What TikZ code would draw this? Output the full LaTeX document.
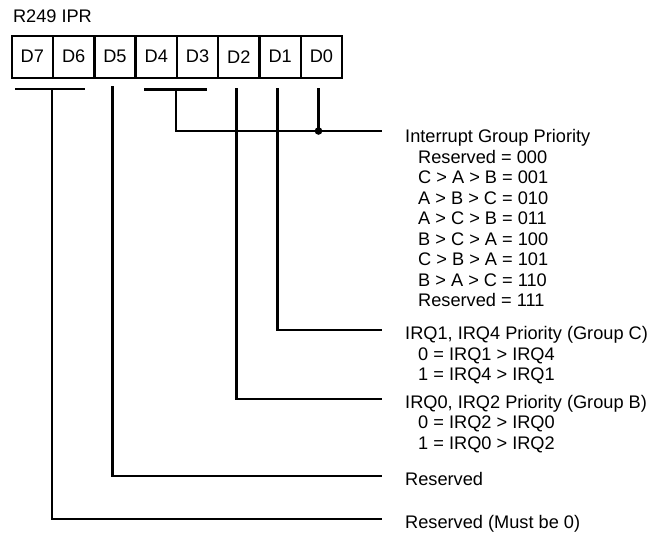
\documentclass[tikz,border=0pt]{standalone}
\usepackage{fontspec}
\setmainfont{Liberation Sans}
\newcommand{\lblfont}{\fontsize{18.2}{20.5}\selectfont}
\begin{document}
\begin{tikzpicture}[x=1pt,y=-1pt,
  wire/.style={line width=2.5pt},
  cellbox/.style={draw, line width=2.4pt, minimum width=41.3pt, minimum height=42pt,
    inner sep=0pt, anchor=north west, font=\lblfont},
  lbl/.style={inner sep=0pt, anchor=base west, font=\lblfont}]
\useasboundingbox (0,0) rectangle (664,533);
% title
\node[lbl] (title) at (12.8,22.3) {R249 IPR};
% register cells
\foreach \b [count=\i from 0] in {7,6,5,4,3,2,1,0}
  \node[cellbox] (c\b) at ({10.5+41.3*\i},34.5) {D\b};
% labels
\node[lbl] (gh) at (405,142.5) {Interrupt Group Priority};
\foreach \t [count=\i from 0] in {Reserved = 000, C > A > B = 001, A > B > C = 010,
    A > C > B = 011, B > C > A = 100, C > B > A = 101, B > A > C = 110, Reserved = 111}
  \node[lbl] (g\i) at (418,{163.3+20.45*\i}) {\t};
\node[lbl] (ch) at (405,339.5) {IRQ1, IRQ4 Priority (Group C)};
\node[lbl] (c0l) at (418,360.2) {0 = IRQ1 > IRQ4};
\node[lbl] (c1l) at (418,380.8) {1 = IRQ4 > IRQ1};
\node[lbl] (bh) at (405,408) {IRQ0, IRQ2 Priority (Group B)};
\node[lbl] (b0l) at (418,428.5) {0 = IRQ2 > IRQ0};
\node[lbl] (b1l) at (418,449) {1 = IRQ0 > IRQ2};
\node[lbl] (r5) at (405,485.7) {Reserved};
\node[lbl] (r7) at (405,528) {Reserved (Must be 0)};
% connector points
\coordinate (b76l) at (15,89);
\coordinate (b76r) at (85,89);
\coordinate (t76) at (52,89);
\coordinate (t5) at (112.5,86);
\coordinate (b43l) at (144,89.5);
\coordinate (b43r) at (207,89.5);
\coordinate (t43) at (176,89.5);
\coordinate (t2) at (236.5,88);
\coordinate (t1) at (277.5,88);
\coordinate (t0) at (318.5,88);
\coordinate (e43) at (382,131);
\coordinate (e1) at (382,330);
\coordinate (e2) at (382,399);
\coordinate (e5) at (382,476);
\coordinate (e7) at (382,519);
% bars and connectors
\draw[wire] (b76l) -- (b76r);
\draw[wire] (b43l) -- (b43r);
\draw[wire] (t43) |- (e43);
\draw[wire] (t0) -- (t0 |- e43);
\fill (t0 |- e43) circle (3.8pt);
\draw[wire] (t1) |- (e1);
\draw[wire] (t2) |- (e2);
\draw[wire] (t5) |- (e5);
\draw[wire] (t76) |- (e7);
\end{tikzpicture}
\end{document}
